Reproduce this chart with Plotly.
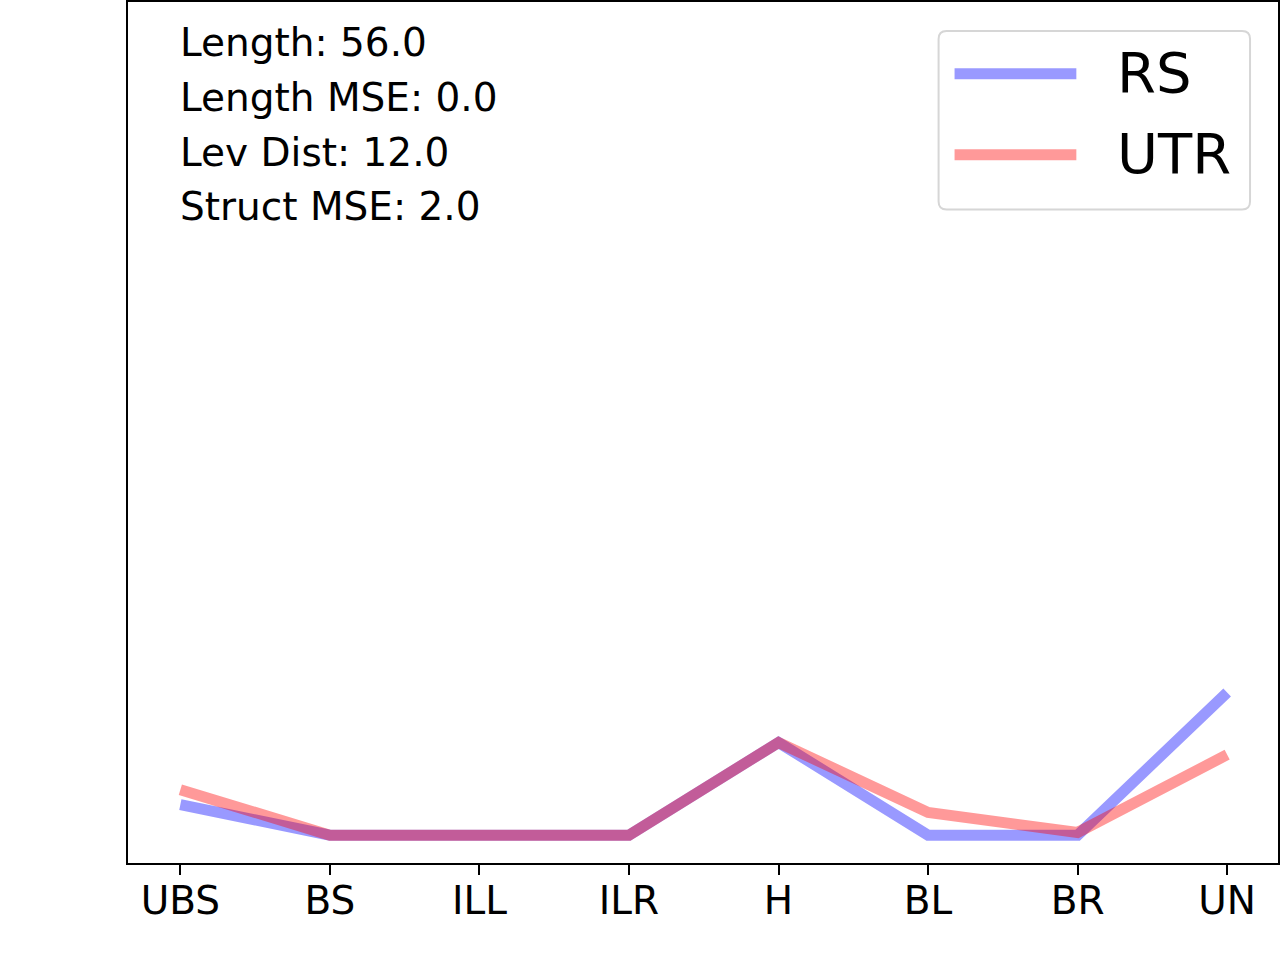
import plotly.graph_objects as go

categories = ["UBS", "BS", "ILL", "ILR", "H", "BL", "BR", "UN"]
rs_values = [0.055, 0.0, 0.0, 0.0, 0.167, 0.0, 0.0, 0.257]
utr_values = [0.082, 0.0, 0.0, 0.0, 0.167, 0.041, 0.005, 0.145]
stats_lines = ["Length: 56.0", "Length MSE: 0.0", "Lev Dist: 12.0", "Struct MSE: 2.0"]
series = [("RS", rs_values, "rgba(0,0,255,0.4)"),
          ("UTR", utr_values, "rgba(255,0,0,0.4)")]

W, H = 1280, 960
ML, MR, MT, MB = 128, 0, 0, 97
FONT = "DejaVu Sans"


def px(x, y):
    # pixel position -> paper coordinates
    return ((x - ML) / (W - ML - MR), 1 - (y - MT) / (H - MT - MB))


fig = go.Figure()
for name, vals, color in series:
    fig.add_trace(go.Scatter(
        x=list(range(len(categories))), y=vals, mode="lines", name=name,
        line=dict(color=color, width=11), hoverinfo="none", showlegend=False,
    ))

# statistics text in upper-left corner
for i, line in enumerate(stats_lines):
    x0, y0 = px(178, 65 + 55 * i)
    fig.add_annotation(x=x0, y=y0, xref="paper", yref="paper", text=line,
                       showarrow=False, xanchor="left", yanchor="bottom",
                       font=dict(family=FONT, size=39, color="black"))

# legend box drawn by hand so the line samples match the long matplotlib ones
bx0, by0, bx1, by1, r = 940, 29, 1252, 208, 8
def P(x, y):
    a, b = px(x, y)
    return f"{a:.5f},{b:.5f}"
path = (f"M{P(bx0 + r, by0)} L{P(bx1 - r, by0)} Q{P(bx1, by0)} {P(bx1, by0 + r)} "
        f"L{P(bx1, by1 - r)} Q{P(bx1, by1)} {P(bx1 - r, by1)} "
        f"L{P(bx0 + r, by1)} Q{P(bx0, by1)} {P(bx0, by1 - r)} "
        f"L{P(bx0, by0 + r)} Q{P(bx0, by0)} {P(bx0 + r, by0)} Z")
fig.add_shape(type="path", path=path, xref="paper", yref="paper",
              line=dict(color="#d6d6d6", width=2), fillcolor="rgba(255,255,255,0.8)")
for i, (name, vals, color) in enumerate(series):
    yy = 72 + 81 * i
    xa, ya = px(956, yy)
    xb, _ = px(1078, yy)
    fig.add_shape(type="line", x0=xa, x1=xb, y0=ya, y1=ya, xref="paper", yref="paper",
                  line=dict(color=color, width=11))
    xt, yt = px(1117, yy - 1)
    fig.add_annotation(x=xt, y=yt, xref="paper", yref="paper", text=name,
                       showarrow=False, xanchor="left", yanchor="middle",
                       font=dict(family=FONT, size=56, color="black"))

fig.update_layout(
    width=W, height=H,
    margin=dict(l=ML, r=MR, t=MT, b=MB),
    paper_bgcolor="white", plot_bgcolor="white",
    font=dict(family=FONT, color="black"),
    xaxis=dict(
        range=[-0.35, 7.34], tickmode="array",
        tickvals=list(range(len(categories))), ticktext=categories,
        showgrid=False, zeroline=False, showline=True, mirror=True,
        linecolor="black", linewidth=1.5, ticks="outside", ticklen=10,
        tickwidth=1.5, tickcolor="black", tickfont=dict(family=FONT, size=39),
        ticklabelstandoff=-8,
    ),
    yaxis=dict(
        range=[-0.05, 1.5], showgrid=False, zeroline=False, showline=True,
        mirror=True, linecolor="black", linewidth=1.5, ticks="",
        showticklabels=False,
    ),
)

fig.write_html("out.html", config={"displayModeBar": False},
               post_script="document.body.style.margin='0';")
